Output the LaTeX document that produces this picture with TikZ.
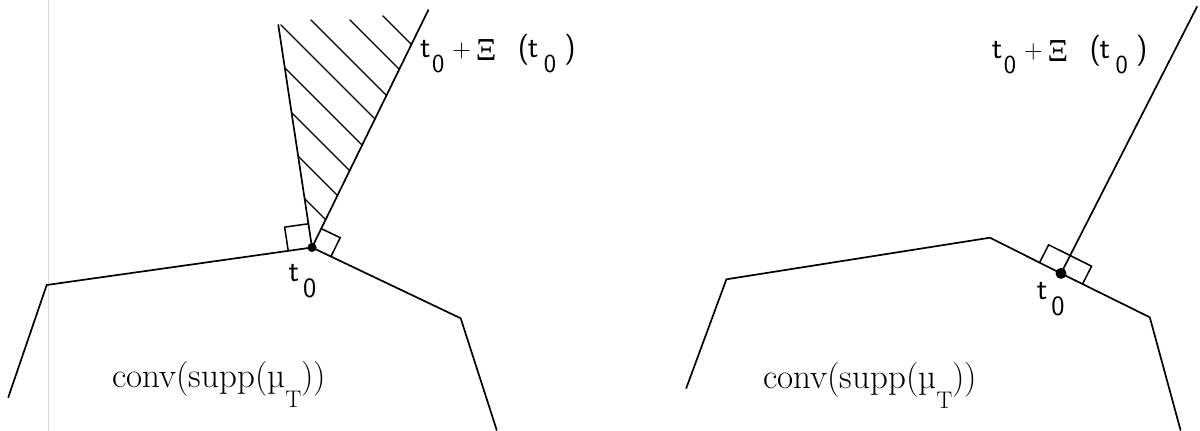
\documentclass[tikz,border=0pt]{standalone}
\usepackage{fontspec}
\newfontfamily\greekfont{Liberation Serif}
\usetikzlibrary{calc}
% glyph placed in a box of fixed advance width
\newcommand\cellbox[2]{\makebox[#1][l]{#2}}
% upper label  t_0 + Xi (t_0)
\newcommand\conelabel{%
  \cellbox{12pt}{t}%
  \cellbox{20pt}{\raisebox{-15pt}{\fontsize{26}{26}\selectfont 0}}%
  \cellbox{23.7pt}{\fontsize{26}{26}\selectfont +}%
  \cellbox{42pt}{\raisebox{-3pt}{\greekfont\fontsize{32}{32}\selectfont Ξ}}%
  \cellbox{10pt}{(}%
  \cellbox{16pt}{t}%
  \cellbox{20.5pt}{\raisebox{-15pt}{\fontsize{26}{26}\selectfont 0}}%
  )}
% lower label t_0
\newcommand\pointlabel{%
  \cellbox{14.5pt}{t}%
  \raisebox{-16pt}{\fontsize{28}{28}\selectfont 0}}
% conv(supp(mu_T))
\newcommand\convtext{%
  conv(supp(µ\raisebox{-20pt}{\fontsize{24}{24}\selectfont T}))}
\begin{document}
\begin{tikzpicture}[x=1pt,y=-1pt,
  edge/.style={line width=1.7pt, line join=round, line cap=round},
  hatchline/.style={line width=1.2pt},
  anglemark/.style={line width=1.5pt, line join=miter},
  lbl/.style={inner sep=0pt, anchor=base west, font=\sffamily\fontsize{31}{34}\selectfont},
  bodylbl/.style={inner sep=0pt, anchor=base west, font=\fontsize{35}{40}\selectfont}]
\useasboundingbox (0,0) rectangle (1200,431);
\fill[white] (0,0) rectangle (1200,431);
% faint vertical scan line
\draw[black!14, line width=0.8pt] (48,0) -- (48,431);

% ---------------- left figure ----------------
\coordinate (L1) at (8.3,397.3);
\coordinate (L2) at (46.7,285);
\coordinate (t0L) at (312,247.5);
\coordinate (L4) at (460.7,318.3);
\coordinate (L5) at (496.7,430);
\coordinate (rayLa) at (278.3,25);
\coordinate (rayLb) at (428.3,10);
\draw[edge] (L1) -- (L2) -- (t0L) -- (L4) -- (L5);
\draw[edge] (rayLa) -- (t0L) -- (rayLb);
\begin{scope}
  \clip (t0L) -- (rayLa) -- (310,19.5) -- (350,19.5) -- (383,15.5) -- (rayLb) -- cycle;
  \foreach \c in {-106,-142,-179,-217,-256,-291,-330,-367}
    \draw[hatchline] (250,250+\c) -- (460,460+\c);
\end{scope}
% right-angle marks
\coordinate (a1) at ($(t0L)!24pt!(L2)$);
\coordinate (a2) at ($(t0L)!24pt!(rayLa)$);
\draw[anglemark] (a1) -- ($(a1)+(a2)-(t0L)$) -- (a2);
\coordinate (b1) at ($(t0L)!21pt!(rayLb)$);
\coordinate (b2) at ($(t0L)!21pt!(L4)$);
\draw[anglemark] (b1) -- ($(b1)+(b2)-(t0L)$) -- (b2);
\fill (t0L) circle (4.5);
\node[lbl] (labL) at (420,57) {\conelabel};
\node[lbl] (t0labL) at (288.3,281.7) {\pointlabel};
\node[bodylbl] (convL) at (112,387.3) {\convtext};

% ---------------- right figure ----------------
\coordinate (R1) at (686.2,388.3);
\coordinate (R2) at (726.4,279.3);
\coordinate (R3) at (990,237.7);
\coordinate (t0R) at (1061,273.4);
\coordinate (R5) at (1149.8,317.3);
\coordinate (R6) at (1180.5,430);
\coordinate (rayR) at (1197,6.7);
\draw[edge] (R1) -- (R2) -- (R3) -- (t0R) -- (R5) -- (R6);
\draw[edge] (t0R) -- (rayR);
\coordinate (c1) at ($(t0R)!24pt!(R3)$);
\coordinate (c2) at ($(t0R)!24pt!(R5)$);
\coordinate (ch) at ($(t0R)!20pt!(rayR)$);
\draw[anglemark] (c1) -- ($(c1)+(ch)-(t0R)$) -- ($(c2)+(ch)-(t0R)$) -- (c2);
\fill (t0R) circle (5.5);
\node[lbl] (labR) at (991.7,58.3) {\conelabel};
\node[lbl] (t0labR) at (1036.7,299.3) {\pointlabel};
\node[bodylbl] (convR) at (763,388) {\convtext};
\end{tikzpicture}
\end{document}
